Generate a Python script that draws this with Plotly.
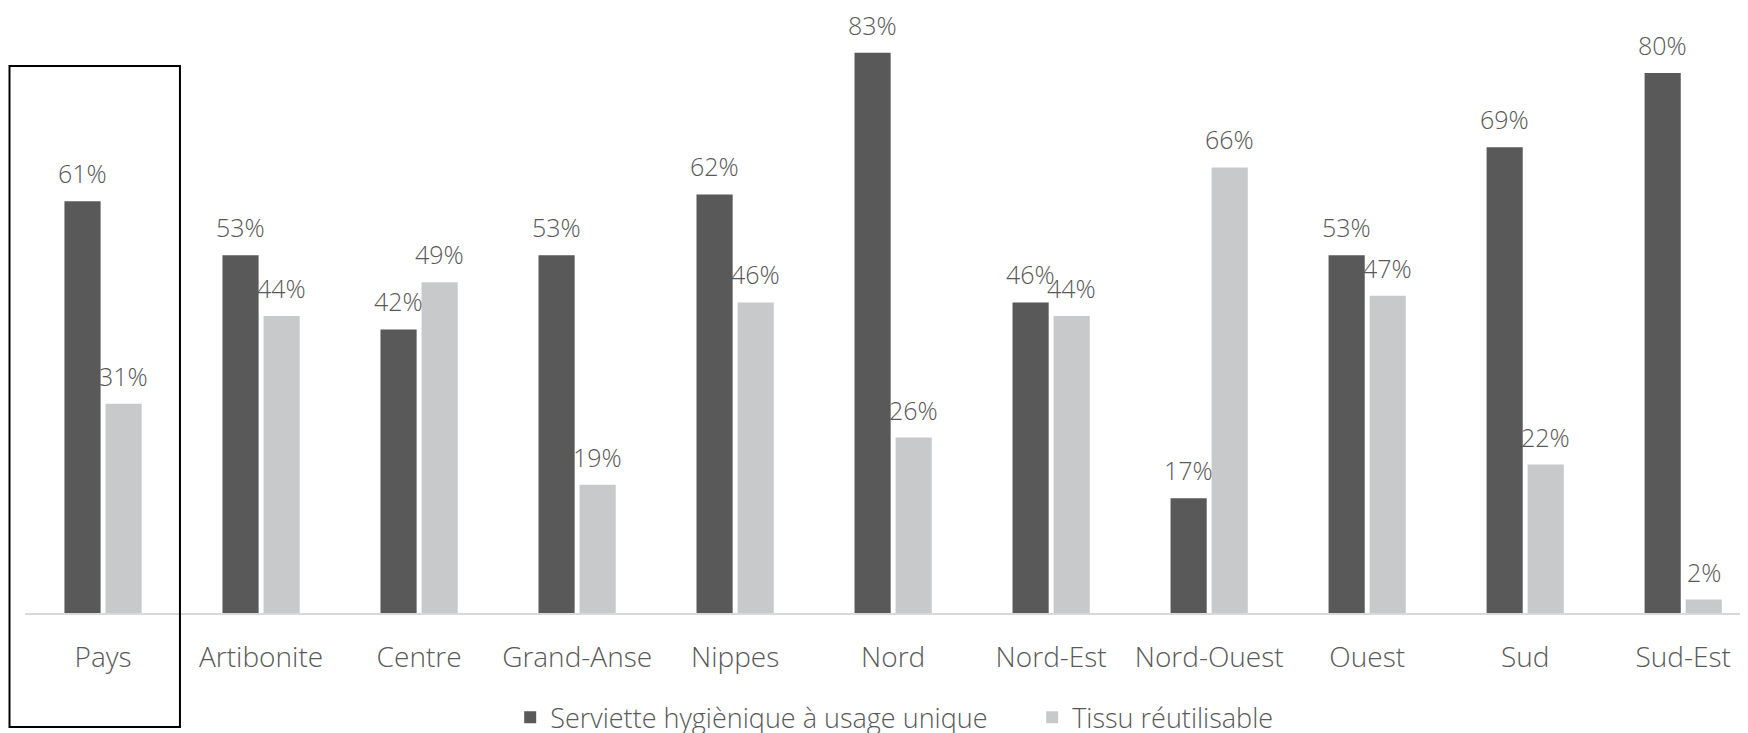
import plotly.graph_objects as go

departements = ["Pays", "Artibonite", "Centre", "Grand-Anse", "Nippes", "Nord",
                "Nord-Est", "Nord-Ouest", "Ouest", "Sud", "Sud-Est"]
serviette = [61, 53, 42, 53, 62, 83, 46, 17, 53, 69, 80]
tissu = [31, 44, 49, 19, 46, 26, 44, 66, 47, 22, 2]

FONT = "Open Sans"
GREY_TXT = "#595959"

# the page body adds 8px of margin, so the figure is 8px smaller each way
W, H = 1740, 725
L, R, T, B = 16.5, 0, 12, 120
PLOT_W = W - L - R
BARGAP = 0.48
X_RANGE = [-0.494, 10.41]  # chart is cropped on the right in the original
cat_px = PLOT_W / (X_RANGE[1] - X_RANGE[0])
half = (1 - BARGAP) / 4 * cat_px  # px from category centre to bar centre

fig = go.Figure()
fig.add_trace(go.Bar(x=departements, y=serviette, name="Serviette hygiènique à usage unique",
                     marker_color="#595959", marker_line_width=0))
fig.add_trace(go.Bar(x=departements, y=tissu, name="Tissu réutilisable",
                     marker_color="#C8C9CA", marker_line_width=0))

# value labels
for vals, sh in ((serviette, -half), (tissu, half)):
    for cat, v in zip(departements, vals):
        fig.add_annotation(x=cat, y=v, text=f"{v}%", showarrow=False,
                           xshift=sh, yshift=28, yanchor="middle",
                           font=dict(size=25, color=GREY_TXT))

fig.update_layout(
    width=W, height=H,
    margin=dict(l=L, r=R, t=T, b=B, autoexpand=False),
    plot_bgcolor="white", paper_bgcolor="white",
    font=dict(family=FONT, size=28, color=GREY_TXT, weight=300),
    barmode="group", bargap=BARGAP, bargroupgap=0.12,
    showlegend=True,
    legend=dict(orientation="h", x=0.2816, xanchor="left", yref="container", y=0.021, yanchor="middle",
                font=dict(size=27, color=GREY_TXT), entrywidth=477, entrywidthmode="pixels"),
)
fig.update_xaxes(showline=True, linecolor="#D9D9D9", linewidth=2, ticks="", automargin=False,
                 range=X_RANGE, tickfont=dict(size=28, color=GREY_TXT), ticklabelstandoff=18)
fig.update_yaxes(visible=False, range=[0, 87.85], showgrid=False, automargin=False)

# box around "Pays"
fig.add_shape(type="rect", xref="paper", yref="paper",
              x0=(1 - L) / PLOT_W, x1=(171.5 - L) / PLOT_W,
              y0=(605 - 719) / 593, y1=(605 - 58) / 593,
              line=dict(color="black", width=2), fillcolor="rgba(0,0,0,0)")

fig.write_html("out.html")
